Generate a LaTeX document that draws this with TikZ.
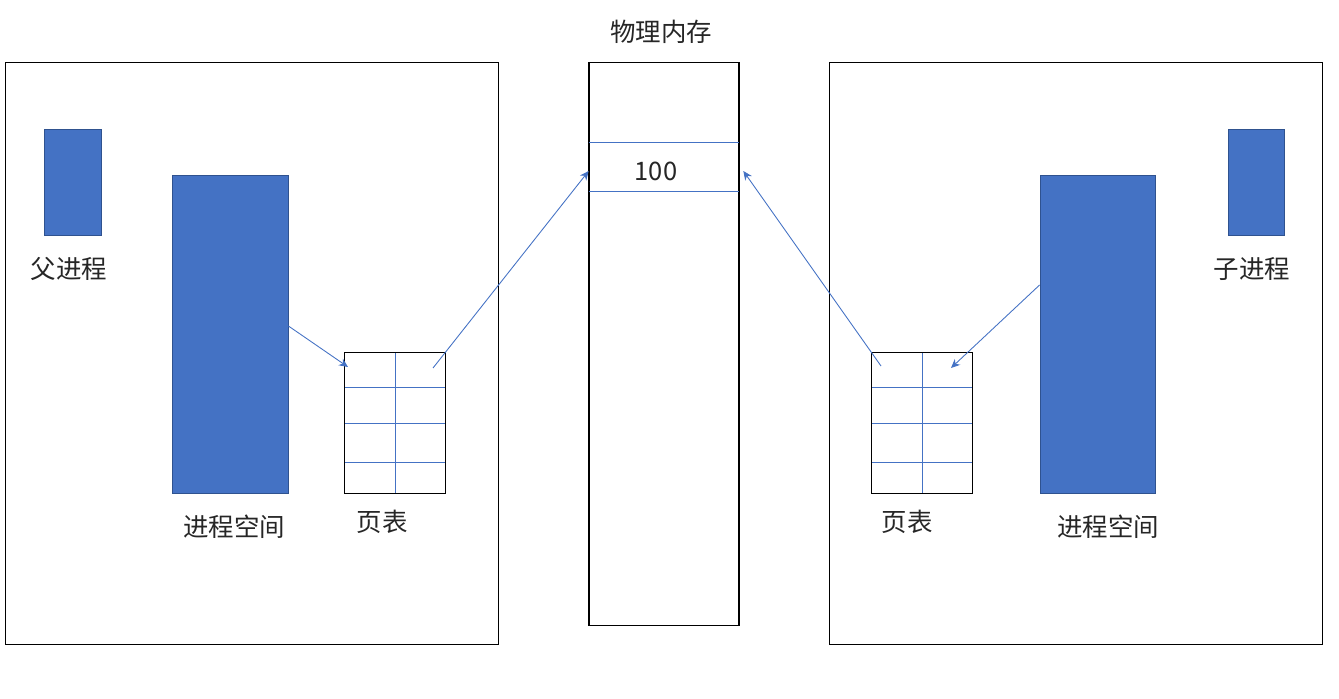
\documentclass[tikz,border=0pt]{standalone}
\usepackage{fontspec}
\setmainfont{Noto Sans CJK SC}
\usetikzlibrary{arrows.meta}
\usetikzlibrary{calc}
\definecolor{ppblue}{HTML}{4472C4}
\definecolor{ppedge}{HTML}{2F528F}
\tikzset{
  frame_n/.style = {draw=black, line width=0.6pt, inner sep=0pt},% cadre
  proc_n/.style = {fill=ppblue, draw=ppedge, line width=0.5pt, inner sep=0pt},
  table_n/.style = {inner sep=0pt, minimum width=2cm, minimum height=2.8cm},% table des pages
  label_n/.style = {inner sep=0pt, text=black!85,
    font=\fontsize{14.5}{17}\selectfont},
  row_l/.style = {draw=ppblue, line width=0.5pt},
  map_l/.style = {draw=ppblue, line width=0.5pt},
}

\begin{document}
\begin{tikzpicture}[->,>={Stealth[length=0.18cm,width=0.16cm]},x=0.02cm,y=-0.02cm]
\useasboundingbox (0,0) rectangle (1339,699);

% les deux processus et la memoire
\node [frame_n, minimum width=9.88cm, minimum height=11.66cm] (parent) at (252,353.5) {};
\node [frame_n, minimum width=9.88cm, minimum height=11.66cm] (child) at (1076,353.5) {};
\node [frame_n, minimum width=3cm, minimum height=11.28cm] (mem) at (664,344) {};
\node [label_n] (memlbl) at (661,32) {物理内存};
\node [inner sep=0pt, minimum width=3cm, minimum height=0.96cm] (cell) at (664,167) {};
\node [label_n] (val) at (656,171) {100};
\draw [row_l, -] (cell.north west) -- (cell.north east);
\draw [row_l, -] (cell.south west) -- (cell.south east);

% processus pere
\node [proc_n, minimum width=1.14cm, minimum height=2.12cm] (p1) at (72.5,182) {};
\node [label_n] (p1lbl) at (69,269) {父进程};
\node [proc_n, minimum width=2.32cm, minimum height=6.36cm] (sp1) at (230,334) {};
\node [label_n] (sp1lbl) at (234,527) {进程空间};
\node [table_n] (pt1) at (395,423) {};
\node [label_n] (pt1lbl) at (382,522) {页表};

% processus fils
\node [proc_n, minimum width=1.12cm, minimum height=2.12cm] (p2) at (1256,182) {};
\node [label_n] (p2lbl) at (1252,269) {子进程};
\node [proc_n, minimum width=2.3cm, minimum height=6.36cm] (sp2) at (1097.5,334) {};
\node [label_n] (sp2lbl) at (1108,527) {进程空间};
\node [table_n] (pt2) at (922,423) {};
\node [label_n] (pt2lbl) at (907,522) {页表};

%lignes des tables
\foreach \t in {pt1,pt2}{
	\draw [row_l, -] (\t.north) -- (\t.south);
	\foreach \f in {0.25,0.5,0.78}
		\draw [row_l, -] ($(\t.north west)!\f!(\t.south west)$)
			-- ($(\t.north east)!\f!(\t.south east)$);
	\draw [frame_n, -] (\t.north west) rectangle (\t.south east);
}

\coordinate (pt1a) at (348,367);
\coordinate (pt1b) at (433,368);
\coordinate (pt2a) at (881,366);
\coordinate (pt2b) at (951,368);

\draw [map_l] ([yshift=0.16cm]sp1.east) -- (pt1a);
\draw [map_l] (pt1b) -- ([yshift=-0.08cm]cell.west);
\draw [map_l] ([yshift=0.98cm]sp2.west) -- (pt2b);
\draw [map_l] (pt2a) -- ([xshift=0.08cm,yshift=-0.08cm]cell.east);
\end{tikzpicture}
\end{document}
